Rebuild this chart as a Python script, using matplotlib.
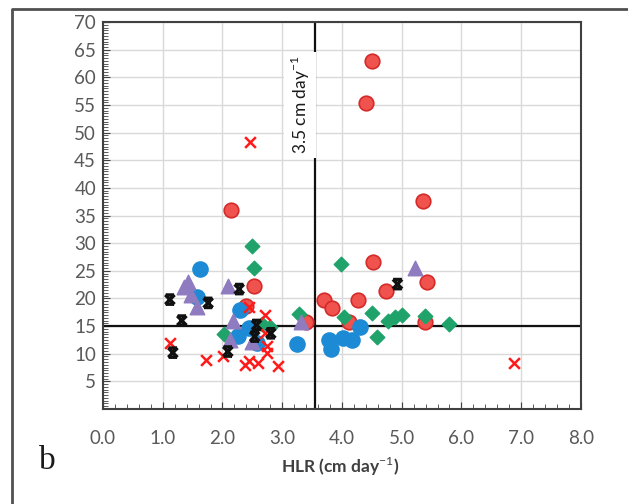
import matplotlib
matplotlib.use('Agg')
import matplotlib.pyplot as plt
from matplotlib.lines import Line2D
from matplotlib.path import Path
import numpy as np

plt.rcParams['font.family'] = ['Lato', 'DejaVu Sans']
plt.rcParams['mathtext.fontset'] = 'custom'
plt.rcParams['mathtext.rm'] = 'Lato'
plt.rcParams['mathtext.bf'] = 'Lato:bold'

# ── DATA ──────────────────────────────────────────────────────────────────────
red_circle_x = [2.14, 2.53, 2.40, 3.40, 4.51, 4.41, 5.35, 4.52, 5.42, 4.74,
                4.27, 3.70, 3.83, 4.12, 5.39]
red_circle_y = [36.1, 22.3, 18.7, 15.8, 63.0, 55.3, 37.6, 26.6, 23.0, 21.3,
                19.8, 19.7, 18.3, 15.7, 15.8]

green_x = [2.49, 2.53, 2.03, 3.28, 2.66, 2.80, 3.99, 4.04, 4.51, 4.58,
           4.77, 4.88, 5.00, 5.39, 5.79]
green_y = [29.5, 25.6, 13.6, 17.2, 15.4, 14.8, 26.2, 16.6, 17.3, 13.1,
           16.0, 16.7, 17.1, 16.8, 15.4]

blue_x = [1.63, 1.57, 2.29, 2.45, 2.26, 2.57, 3.25, 4.30, 3.79, 3.82,
          4.02, 4.16]
blue_y = [25.3, 20.3, 17.9, 14.6, 13.2, 11.9, 11.8, 14.9, 12.5, 10.8,
          12.8, 12.4]

purple_x = [1.43, 1.36, 1.48, 1.58, 2.09, 2.18, 2.13, 2.49, 3.32, 5.22]
purple_y = [23.0, 22.0, 20.6, 18.4, 22.2, 15.9, 12.5, 12.2, 15.8, 25.6]

black_x = [1.12, 1.32, 1.17, 1.76, 2.28, 2.09, 2.57, 2.54, 2.81, 4.93]
black_y = [19.8, 16.0, 10.2, 19.2, 21.7, 10.4, 15.2, 13.1, 13.7, 22.6]

red_x_x = [1.12, 1.73, 2.01, 2.46, 2.45, 2.72, 2.38, 2.44, 2.60, 2.74,
           2.74, 2.93, 2.71, 6.88]
red_x_y = [11.9, 8.9, 9.6, 48.3, 18.5, 17.0, 8.0, 8.6, 8.4, 10.2,
           11.4, 7.8, 13.8, 8.3]

x_ticks = [0, 1, 2, 3, 4, 5, 6, 7, 8]
y_ticks = [5, 10, 15, 20, 25, 30, 35, 40, 45, 50, 55, 60, 65, 70]
hlr_limit = 3.55
y_limit = 15

# "x with bars" marker: an X plus short bars top and bottom
xbar = Path([(-1, 1), (1, -1), (1, 1), (-1, -1),
             (-0.9, 1), (0.9, 1), (-0.9, -1), (0.9, -1)],
            [Path.MOVETO, Path.LINETO, Path.MOVETO, Path.LINETO,
             Path.MOVETO, Path.LINETO, Path.MOVETO, Path.LINETO])

# ── FIGURE ────────────────────────────────────────────────────────────────────
fig = plt.figure(figsize=(6.28, 5.04), dpi=100)
ax = fig.add_axes([0.164, 0.1885, 0.761, 0.7675])

ax.set_xlim(0, 8)
ax.set_ylim(0, 70)
ax.set_xticks(x_ticks)
ax.set_xticklabels([f"{v:.1f}" for v in x_ticks])
ax.set_yticks(y_ticks)
ax.set_xticks(np.arange(0, 8.01, 0.2), minor=True)
ax.set_yticks(np.arange(0, 70.01, 0.5), minor=True)
ax.grid(True, which='major', color='#d9d9d9', linewidth=1.0, zorder=0)
ax.tick_params(which='both', direction='in', color='#404040', labelcolor='#595959',
               labelsize=13.5)
ax.tick_params(which='major', length=5)
ax.tick_params(which='minor', length=3.5)
ax.tick_params(axis='x', pad=15)
ax.tick_params(axis='y', pad=5)
for sp in ax.spines.values():
    sp.set_color('#404040')
    sp.set_linewidth(1.5)

# threshold lines
ax.axvline(hlr_limit, color='#111111', linewidth=1.6, zorder=2)
ax.axhline(y_limit, color='#111111', linewidth=1.6, zorder=2)

ax.scatter(red_circle_x, red_circle_y, s=110, marker='o', facecolor='#f0524d',
           edgecolor='#d42a2a', linewidth=1.2, zorder=3)
ax.scatter(green_x, green_y, s=55, marker='D', color='#1fa36a', zorder=4)
ax.scatter(blue_x, blue_y, s=120, marker='o', color='#1c8ad4', zorder=4)
ax.scatter(purple_x, purple_y, s=110, marker='^', color='#8f7bbf', zorder=4)
ax.scatter(red_x_x, red_x_y, s=60, marker='x', color='#ff1a1a', linewidth=1.8, zorder=5)
ax.scatter(black_x, black_y, s=45, marker=xbar, facecolor='none',
           edgecolor='#111111', linewidth=2.4, zorder=5)

ax.text(3.3, 55, "3.5 cm day$^{-1}$", rotation=90, ha='center', va='center',
        fontsize=12.5, color='#1a1a1a',
        bbox=dict(facecolor='white', edgecolor='none', pad=3), zorder=6)

fig.text(0.542, 0.075, "HLR (cm day$^{-1}$)", ha='center', va='center',
         fontsize=12.5, fontweight='bold', color='#404040')
fig.text(0.075, 0.085, "b", ha='center', va='center', fontsize=24,
         family='Liberation Serif', color='#1a1a1a')

# outer frame of the cropped figure panel
fig.add_artist(Line2D([0.019, 0.019, 1.0], [0.0, 0.982, 0.982],
                      transform=fig.transFigure, color='#505050', linewidth=2))

plt.savefig('out.png', dpi=100)
plt.close()
